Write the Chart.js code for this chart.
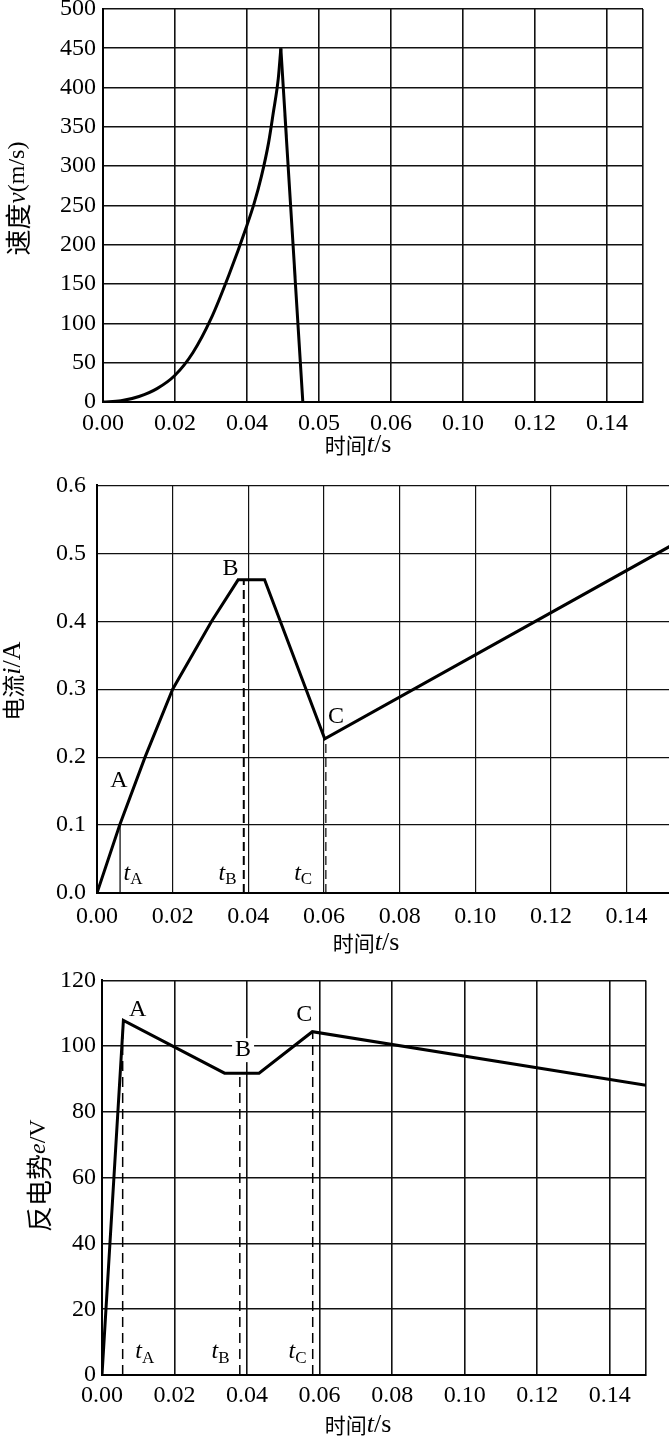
<!DOCTYPE html>
<html>
<head>
<meta charset="utf-8">
<script src="https://cdn.jsdelivr.net/npm/chart.js@4.4.1/dist/chart.umd.min.js"></script>
<style>
  html, body { margin: 0; padding: 0; background: #fff; overflow: hidden; width: 669px; height: 1437px; position: relative; }
  canvas { position: absolute; left: 0; }
</style>
</head>
<body>
<canvas id="speed" width="669" height="480" style="top:-20px;width:669px;height:480px"></canvas>
<canvas id="current" width="680" height="500" style="top:460px;width:680px;height:500px"></canvas>
<canvas id="emf" width="669" height="477" style="top:960px;width:669px;height:477px"></canvas>
<script>
// speed curve (top chart)
const speedTime = [0, 0.005, 0.01, 0.015, 0.02, 0.025, 0.03, 0.035, 0.04, 0.042, 0.044, 0.046, 0.0473, 0.0487, 0.0494];
const speedValue = [0, 1.5, 7, 17, 34, 63, 106, 162, 225, 253, 287, 330, 368, 412, 450];
const brakeTime = [0.0494, 0.0555];
const brakeValue = [450, 0];
const speedXLabels = ['0.00', '0.02', '0.04', '0.05', '0.06', '0.10', '0.12', '0.14'];
const speedYTicks = [0, 50, 100, 150, 200, 250, 300, 350, 400, 450, 500];

// current (middle chart)
const currentTime = [0, 0.006, 0.0127, 0.02, 0.0303, 0.0373, 0.0443, 0.0602, 0.152];
const currentValue = [0, 0.1, 0.2, 0.3, 0.4, 0.461, 0.461, 0.227, 0.512];
const currentMarkTime = [0.0061, 0.0388, 0.0605];
const currentMarkValue = [0.1, 0.461, 0.227];
const currentYTicks = [0, 0.1, 0.2, 0.3, 0.4, 0.5, 0.6];

// back emf (bottom chart)
const emfTime = [0, 0.0059, 0.0338, 0.0433, 0.058, 0.15];
const emfValue = [0, 107.8, 91.8, 91.8, 104.4, 88.1];
const emfMarkTime = [0.0057, 0.038, 0.0581];
const emfMarkValue = [107, 91.8, 104.4];
const emfYTicks = [0, 20, 40, 60, 80, 100, 120];

const timeTicks = [0, 0.02, 0.04, 0.06, 0.08, 0.10, 0.12, 0.14];
const timeLabels = ['0.00', '0.02', '0.04', '0.06', '0.08', '0.10', '0.12', '0.14'];

const SERIF = '"Liberation Serif", "Times New Roman", serif';
const CJK = '"Noto Sans CJK SC", sans-serif';
const TICK = 24;

const pts = (xs, ys) => xs.map((x, i) => ({ x: x, y: ys[i] }));

// parts: [text, kind, size]; kind c = CJK, i = italic, s = subscript, r = roman
function fontFor(kind, size) {
  if (kind === 'c') return size + 'px ' + CJK;
  if (kind === 'i') return 'italic ' + size + 'px ' + SERIF;
  return size + 'px ' + SERIF;
}

function drawRich(ctx, parts, x, y, size, rotate, bg) {
  ctx.save();
  ctx.translate(x, y);
  if (rotate) ctx.rotate(-Math.PI / 2);
  const sz = p => p[2] || (p[1] === 's' ? Math.round(size * 0.7) : size);
  let w = 0;
  parts.forEach(p => { ctx.font = fontFor(p[1], sz(p)); w += ctx.measureText(p[0]).width; });
  if (bg) {
    ctx.fillStyle = '#fff';
    ctx.fillRect(-w / 2 - 3, -size / 2, w + 6, size);
  }
  let cx = -w / 2;
  ctx.textBaseline = 'middle';
  ctx.textAlign = 'left';
  ctx.fillStyle = '#000';
  parts.forEach(p => {
    ctx.font = fontFor(p[1], sz(p));
    ctx.fillText(p[0], cx, p[1] === 's' ? size * 0.28 : 0);
    cx += ctx.measureText(p[0]).width;
  });
  ctx.restore();
}

const decor = {
  id: 'decor',
  afterDatasetsDraw(chart, args, opts) {
    const { ctx, chartArea, scales } = chart;
    (opts.labels || []).forEach(l => {
      drawRich(ctx, l.parts, scales.x.getPixelForValue(l.t), scales.y.getPixelForValue(l.v), 24, false, l.bg);
    });
    const xt = opts.xTitle, yt = opts.yTitle;
    drawRich(ctx, xt.parts, xt.x, chartArea.bottom + xt.dy, 24, false);
    drawRich(ctx, yt.parts, yt.x, (chartArea.top + chartArea.bottom) / 2 + yt.dy, 24, true);
  }
};

function xAxis(values, labels, height, pad, gridW) {
  return {
    type: 'linear', min: 0, max: values[values.length - 1],
    afterBuildTicks: s => { s.ticks = values.map(v => ({ value: v })); },
    afterFit: s => { s.height = height; },
    grid: { color: '#111', lineWidth: gridW, drawTicks: false },
    border: { color: '#000', width: 2 },
    ticks: {
      autoSkip: false, maxRotation: 0, padding: pad, color: '#000',
      font: { family: SERIF, size: TICK },
      callback: (v, i) => labels[i] ?? ''
    }
  };
}

function yAxis(values, digits, width, pad, gridW) {
  return {
    min: 0, max: values[values.length - 1],
    afterBuildTicks: s => { s.ticks = values.map(v => ({ value: v })); },
    afterFit: s => { s.width = width; },
    grid: { color: '#111', lineWidth: gridW, drawTicks: false },
    border: { color: '#000', width: 2 },
    ticks: {
      padding: pad, color: '#000',
      font: { family: SERIF, size: TICK },
      callback: (v, i) => values[i].toFixed(digits)
    }
  };
}

function line(data, extra) {
  return Object.assign({ data: data, borderColor: '#000', borderWidth: 3, pointRadius: 0, fill: false, tension: 0 }, extra);
}

function markLine(t, v, width, dash) {
  return line([{ x: t, y: 0 }, { x: t, y: v }], { borderWidth: width, borderDash: dash });
}

const base = { responsive: false, animation: false, events: [] };
const tSub = s => [['t', 'i'], [s, 's']];
const xTitle = [['时间', 'c', 21], ['t', 'i', 26], ['/s', 'r', 26]];

new Chart(document.getElementById('speed'), {
  type: 'line',
  data: {
    datasets: [
      line(pts(speedTime, speedValue), { cubicInterpolationMode: 'monotone' }),
      line(pts(brakeTime, brakeValue))
    ]
  },
  options: Object.assign({}, base, {
    layout: { padding: { top: 29, right: 26, left: 0, bottom: 0 } },
    scales: {
      x: xAxis(timeTicks.concat([0.15]), speedXLabels, 58, 7, 1.6),
      y: yAxis(speedYTicks, 0, 103, 7, 1.6)
    },
    plugins: {
      legend: { display: false }, tooltip: { enabled: false },
      decor: {
        xTitle: { parts: xTitle, x: 358, dy: 43 },
        yTitle: { parts: [['速度', 'c', 26], ['v', 'i', 25], ['(m/s)', 'r', 24]], x: 18, dy: -7 }
      }
    }
  }),
  plugins: [decor]
});

new Chart(document.getElementById('current'), {
  type: 'line',
  data: {
    datasets: [
      line(pts(currentTime, currentValue)),
      markLine(currentMarkTime[0], currentMarkValue[0], 1.2, []),
      markLine(currentMarkTime[1], currentMarkValue[1], 2, [9, 5]),
      markLine(currentMarkTime[2], currentMarkValue[2], 1.2, [9, 5])
    ]
  },
  options: Object.assign({}, base, {
    layout: { padding: { top: 15, right: 8, left: 0, bottom: 0 } },
    scales: {
      x: Object.assign(xAxis(timeTicks, timeLabels, 67, 9, 1.2), { max: 0.152 }),
      y: yAxis(currentYTicks, 1, 97, 11, 1.2)
    },
    plugins: {
      legend: { display: false }, tooltip: { enabled: false },
      decor: {
        xTitle: { parts: xTitle, x: 366, dy: 50 },
        yTitle: { parts: [['电流', 'c', 23], ['i', 'i', 26], ['/A', 'r', 26]], x: 13, dy: -8 },
        labels: [
          { parts: [['A', 'r']], t: 0.0058, v: 0.165 },
          { parts: [['B', 'r']], t: 0.0353, v: 0.478 },
          { parts: [['C', 'r']], t: 0.0632, v: 0.259 },
          { parts: tSub('A'), t: 0.0095, v: 0.029 },
          { parts: tSub('B'), t: 0.0345, v: 0.029 },
          { parts: tSub('C'), t: 0.0545, v: 0.029 }
        ]
      }
    }
  }),
  plugins: [decor]
});

new Chart(document.getElementById('emf'), {
  type: 'line',
  data: {
    datasets: [
      line(pts(emfTime, emfValue)),
      markLine(emfMarkTime[0], emfMarkValue[0], 1.5, [10, 6]),
      markLine(emfMarkTime[1], emfMarkValue[1], 1.5, [10, 6]),
      markLine(emfMarkTime[2], emfMarkValue[2], 1.5, [10, 6])
    ]
  },
  options: Object.assign({}, base, {
    layout: { padding: { top: 17, right: 23, left: 0, bottom: 0 } },
    scales: {
      x: xAxis(timeTicks.concat([0.15]), timeLabels, 62, 6, 1.6),
      y: yAxis(emfYTicks, 0, 102, 6, 1.6)
    },
    plugins: {
      legend: { display: false }, tooltip: { enabled: false },
      decor: {
        xTitle: { parts: xTitle, x: 358, dy: 50 },
        yTitle: { parts: [['反电势', 'c', 26], ['e', 'i', 24], ['/V', 'r', 24]], x: 39, dy: -2 },
        labels: [
          { parts: [['A', 'r']], t: 0.0098, v: 111.2 },
          { parts: [['B', 'r']], t: 0.0389, v: 98.8, bg: true },
          { parts: [['C', 'r']], t: 0.0558, v: 109.5 },
          { parts: tSub('A'), t: 0.0118, v: 7 },
          { parts: tSub('B'), t: 0.0327, v: 7 },
          { parts: tSub('C'), t: 0.0539, v: 7 }
        ]
      }
    }
  }),
  plugins: [decor]
});
</script>
</body>
</html>
